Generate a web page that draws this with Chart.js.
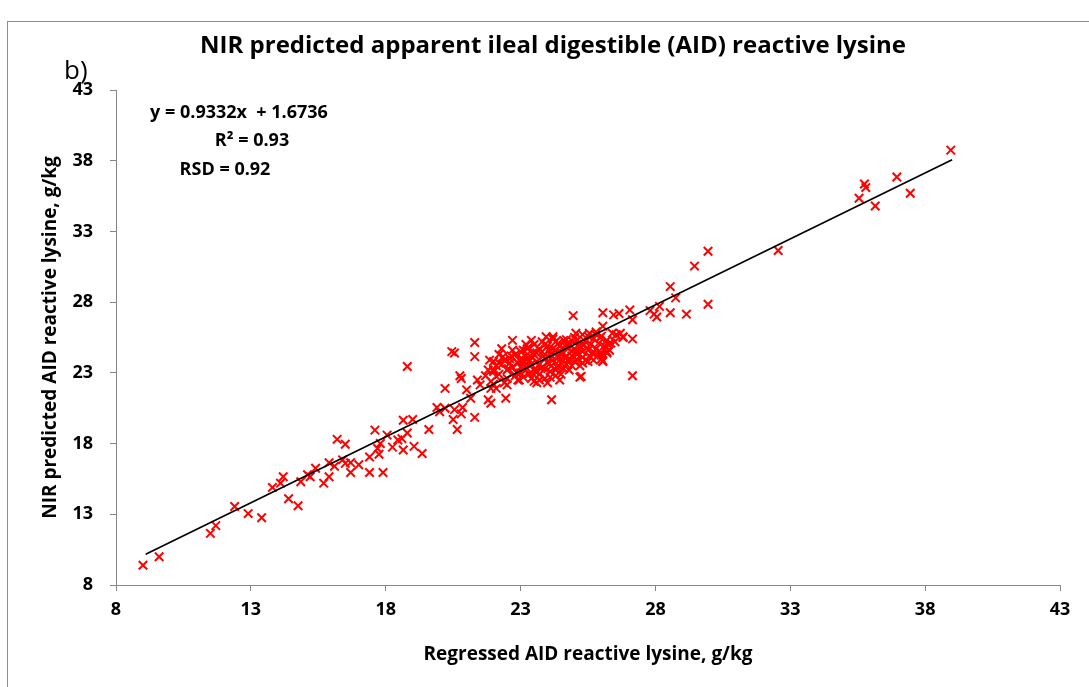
<!DOCTYPE html>
<html>
<head>
<meta charset="utf-8">
<script src="https://cdn.jsdelivr.net/npm/chart.js@4/dist/chart.umd.min.js"></script>
<style>
  html, body { margin: 0; padding: 0; background: #fff; }
  .chart-container { position: relative; width: 1089px; height: 687px; }
</style>
</head>
<body>
<div class="chart-container">
  <canvas id="chart"></canvas>
</div>
<script>
// Textos del gráfico
const chartTitle = "NIR predicted apparent ileal digestible (AID) reactive lysine";
const panelLabel = "b)";
const equationLines = ["y = 0.9332x  + 1.6736", "R² = 0.93", "RSD = 0.92"];
const xTitle = "Regressed AID reactive lysine, g/kg";
const yTitle = "NIR predicted AID reactive lysine, g/kg";

// Marcas de los ejes
const tickValues = [8, 13, 18, 23, 28, 33, 38, 43];

// Puntos observados (regresado, predicho NIR)
const regressedX = [
  9.0, 9.6, 11.5, 11.7, 12.4, 12.9, 13.4, 13.8, 14.1, 14.2, 14.4, 14.75, 14.85, 15.1,
  15.2, 15.4, 15.7, 15.9, 15.9, 16.1, 16.2, 16.4, 16.5, 16.5, 16.7, 16.7, 17.0, 17.4,
  17.4, 17.6, 17.7, 17.75, 17.8, 17.9, 18.05, 18.25, 18.45, 18.6, 18.65, 18.65, 18.8, 18.8,
  19.0, 19.05, 19.35, 19.6, 19.9, 20.0, 20.2, 20.2, 20.45, 20.55, 20.5, 20.55, 20.65, 20.75,
  20.8, 20.85, 21.0, 21.15, 21.3, 21.3, 21.3, 21.4, 20.8, 21.5, 21.85, 21.9, 21.8, 22.45,
  22.5, 22.7, 22.0, 22.1, 22.2, 22.35, 24.95, 24.15, 25.2, 26.05, 26.45, 26.65, 27.05, 27.15,
  27.15, 26.05, 26.05, 26.0, 26.2, 26.35, 26.55, 26.8, 25.7, 25.55, 25.8, 25.3, 25.05, 24.45,
  24.5, 23.7, 22.95, 23.2, 23.95, 24.2, 24.7,
  29.95, 29.45, 29.95, 28.55, 28.75, 29.15, 28.55, 27.8, 27.95, 28.05, 28.15, 27.15, 26.7, 26.8,
  26.0, 26.05, 25.25,
  38.95, 36.95, 37.45, 35.75, 35.8, 35.55, 36.15, 32.55,
  // núcleo denso
  22.0, 22.1, 22.2, 22.3, 22.4, 22.5, 22.5, 22.6, 22.7, 22.8, 22.8, 22.9, 23.0, 23.0,
  23.1, 23.1, 23.2, 23.2, 23.3, 23.3, 23.4, 23.4, 23.5, 23.5, 23.5, 23.6, 23.6, 23.7,
  23.7, 23.8, 23.8, 23.9, 23.9, 24.0, 24.0, 24.1, 24.1, 24.2, 24.2, 24.3, 24.3, 24.4,
  24.4, 24.5, 24.5, 24.6, 24.6, 24.7, 24.7, 24.8, 24.8, 24.9, 25.0, 25.0, 25.1, 25.1,
  25.2, 25.2, 25.3, 25.4, 25.4, 25.5, 25.6, 25.6, 25.7, 25.8, 25.9, 25.9, 26.0, 26.1,
  26.2, 26.3, 26.4, 26.5, 22.4, 22.6, 22.9, 23.0, 23.2, 23.4, 23.6, 23.8, 24.0, 24.2,
  24.4, 24.6, 24.8, 25.0, 25.3, 25.5, 25.7, 25.8, 26.0, 26.2, 22.3, 22.2, 21.9, 22.0,
  22.1, 23.5, 23.9, 24.1, 24.3, 24.5, 24.7, 24.9, 23.3, 23.7, 24.9, 25.1, 25.3, 25.5,
  23.1, 22.7, 23.9, 24.3, 24.1, 23.6, 23.4, 22.0, 21.8, 21.7, 21.9,
  22.55, 22.85, 23.15, 23.45, 23.75, 24.05, 24.35, 24.65, 24.95, 25.25, 22.65, 22.95, 23.25, 23.55,
  23.85, 24.15, 24.45, 24.75, 25.05, 25.35, 25.65, 25.95, 26.25, 23.05, 23.35
];
const predictedY = [
  9.4, 10.0, 11.65, 12.2, 13.55, 13.05, 12.75, 14.9, 15.2, 15.65, 14.1, 13.6, 15.3, 15.8,
  15.65, 16.25, 15.2, 15.65, 16.65, 16.4, 18.3, 16.85, 17.95, 16.6, 15.95, 16.65, 16.5, 15.95,
  17.05, 18.95, 17.65, 17.25, 18.0, 15.95, 18.6, 17.75, 18.25, 18.35, 17.55, 19.65, 18.75, 23.45,
  19.7, 17.8, 17.3, 19.0, 20.55, 20.25, 20.5, 21.9, 24.5, 24.4, 19.7, 20.4, 19.0, 22.8,
  20.1, 20.55, 21.8, 21.2, 25.15, 24.15, 19.85, 22.5, 22.6, 22.15, 23.9, 20.85, 21.1, 21.2,
  22.15, 25.3, 23.2, 22.75, 23.7, 24.15, 27.05, 21.1, 22.7, 27.25, 27.1, 27.2, 27.45, 25.4,
  22.8, 26.3, 23.8, 24.4, 24.5, 25.1, 25.7, 25.55, 24.5, 25.8, 25.9, 25.7, 25.8, 22.5,
  24.4, 22.5, 22.5, 23.2, 25.55, 25.55, 25.35,
  31.6, 30.55, 27.85, 29.1, 28.3, 27.15, 27.25, 27.4, 27.15, 26.95, 27.7, 26.75, 25.8, 25.5,
  24.25, 23.85, 22.75,
  38.75, 36.85, 35.7, 36.35, 36.1, 35.35, 34.8, 31.65,
  // núcleo denso
  23.1, 23.5, 22.9, 23.6, 23.9, 23.2, 22.6, 24.0, 23.4, 22.8, 24.3, 23.7, 23.0, 24.5,
  23.9, 22.7, 24.2, 23.4, 22.9, 24.8, 23.6, 24.1, 22.4, 23.2, 25.0, 24.4, 23.8, 22.9,
  24.7, 23.4, 25.2, 24.0, 22.6, 23.7, 24.9, 23.1, 24.3, 25.4, 23.9, 22.8, 24.6, 23.5,
  25.1, 24.0, 22.9, 24.4, 25.3, 23.6, 24.8, 23.2, 25.0, 24.2, 24.7, 23.8, 25.3, 24.3,
  23.5, 24.9, 24.5, 25.2, 23.9, 24.6, 25.0, 24.1, 25.4, 24.7, 25.1, 24.3, 25.6, 24.9,
  25.3, 24.6, 25.8, 25.2, 22.3, 23.7, 22.5, 23.4, 25.0, 22.6, 23.1, 24.5, 22.3, 24.7,
  24.1, 23.3, 24.0, 25.5, 23.7, 25.6, 23.9, 25.7, 24.0, 24.4, 24.7, 24.3, 22.4, 22.2,
  21.9, 24.3, 23.3, 24.0, 23.2, 23.7, 25.0, 23.5, 23.8, 23.6, 24.5, 23.9, 24.1, 23.8,
  24.6, 24.6, 25.0, 25.2, 22.7, 22.3, 25.3, 23.8, 23.2, 22.8, 21.9,
  23.3, 23.0, 23.8, 24.4, 23.3, 24.6, 23.4, 24.1, 25.2, 24.8, 24.2, 23.9, 24.7, 23.1,
  24.2, 23.5, 24.9, 23.9, 24.4, 25.0, 24.4, 25.5, 25.0, 24.0, 23.9
];

// Recta de regresión: extremos
const fitX = [9.1, 39.0];
const fitY = [10.17, 38.07];

const points = regressedX.map((x, i) => ({ x: x, y: predictedY[i] }));
const fitLine = fitX.map((x, i) => ({ x: x, y: fitY[i] }));

const textFont = "'Liberation Sans Narrow', 'Arial Narrow', 'Open Sans', sans-serif";
const axisGrey = "#868686";

// Texto libre: título, etiqueta del panel, ecuación y marco exterior
const overlayPlugin = {
  id: "overlay",
  beforeDraw(chart) {
    const ctx = chart.ctx;
    ctx.save();
    ctx.fillStyle = "#fff";
    ctx.fillRect(0, 0, chart.width, chart.height);
    ctx.strokeStyle = "#8c8c8c";
    ctx.lineWidth = 1;
    ctx.strokeRect(7.5, 21.5, 1200, 800);
    ctx.restore();
  },
  afterDraw(chart) {
    const ctx = chart.ctx;
    ctx.save();
    ctx.fillStyle = "#000";
    ctx.textBaseline = "middle";
    ctx.textAlign = "center";
    ctx.font = "bold 24px " + textFont;
    ctx.fillText(chartTitle, 553, 46);
    ctx.textAlign = "left";
    ctx.font = "26px " + textFont;
    ctx.fillText(panelLabel, 64, 72);
    ctx.textAlign = "center";
    ctx.font = "bold 18px " + textFont;
    ctx.fillText(equationLines[0], 239, 113);
    ctx.fillText(equationLines[1], 252, 141);
    ctx.fillText(equationLines[2], 225, 170);
    ctx.restore();
  }
};

const tickFont = { family: textFont, size: 18, weight: "bold" };
const titleFont = { family: textFont, size: 19, weight: "bold" };

new Chart(document.getElementById("chart"), {
  type: "scatter",
  data: {
    datasets: [
      {
        label: "Observed",
        data: points,
        pointStyle: "crossRot",
        pointRadius: 6,
        pointHoverRadius: 6,
        borderColor: "#ff0000",
        backgroundColor: "#ff0000",
        pointBorderWidth: 2,
        order: 2
      },
      {
        type: "line",
        label: "Fit",
        data: fitLine,
        borderColor: "#000",
        borderWidth: 1.7,
        pointRadius: 0,
        fill: false,
        order: 1
      }
    ]
  },
  options: {
    responsive: true,
    maintainAspectRatio: false,
    animation: false,
    events: [],
    layout: { padding: { left: 0, right: 29, top: 90, bottom: 7 } },
    plugins: {
      legend: { display: false },
      tooltip: { enabled: false }
    },
    scales: {
      x: {
        type: "linear",
        min: 8,
        max: 43,
        afterBuildTicks(scale) {
          scale.ticks = tickValues.map(v => ({ value: v }));
        },
        afterFit(scale) { scale.height = 95; },
        grid: { drawOnChartArea: false, color: axisGrey, tickLength: 6 },
        border: { color: axisGrey, width: 1 },
        ticks: { color: "#000", font: tickFont, padding: 8, maxRotation: 0 },
        title: { display: true, text: xTitle, color: "#000", font: titleFont, padding: { top: 0, bottom: 14 } }
      },
      y: {
        type: "linear",
        min: 8,
        max: 43,
        afterBuildTicks(scale) {
          scale.ticks = tickValues.map(v => ({ value: v }));
        },
        afterFit(scale) { scale.width = 116; },
        grid: { drawOnChartArea: false, color: axisGrey, tickLength: 6 },
        border: { color: axisGrey, width: 1 },
        ticks: { color: "#000", font: tickFont, padding: 17 },
        title: { display: true, text: yTitle, color: "#000", font: titleFont, padding: { top: 39, bottom: 0 } }
      }
    }
  },
  plugins: [overlayPlugin]
});
</script>
</body>
</html>
